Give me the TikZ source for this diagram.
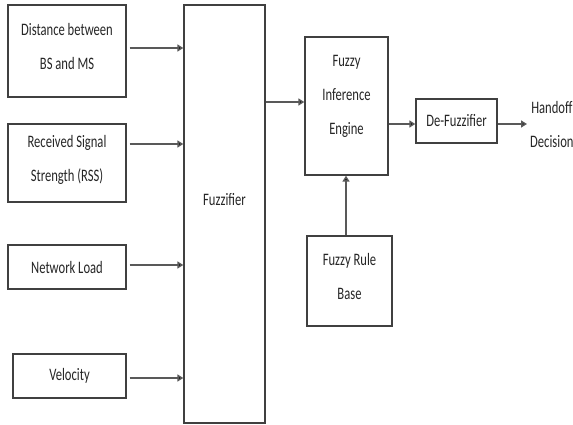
\documentclass[tikz,border=0pt]{standalone}
\usepackage{fontspec}
\setmainfont{Carlito}[FakeStretch=0.72]
\usetikzlibrary{arrows.meta}
\begin{document}
\begin{tikzpicture}[x=1pt,y=-1pt,
  blk/.style={draw=black!75,line width=1.3pt,fill=white,inner sep=0pt},
  lbl/.style={font=\fontsize{17.5}{34}\selectfont,align=center,text=black!85,inner sep=0pt},
  arr/.style={draw=black!65,line width=1.5pt,-{Triangle[length=6pt,width=7pt,fill=black]}}]
\useasboundingbox (0,0) rectangle (573,425);
% boxes
\node[blk,minimum width=118pt,minimum height=92pt] (d) at (67,51) {};
\node[lbl] at (67,46) {Distance between\\BS and MS};
\node[blk,minimum width=118pt,minimum height=78pt] (r) at (67,163) {};
\node[lbl] at (67,160) {Received Signal\\Strength (RSS)};
\node[blk,minimum width=118pt,minimum height=44pt] (n) at (67,267) {};
\node[lbl] at (67,267) {Network Load};
\node[blk,minimum width=113pt,minimum height=44pt] (v) at (69.5,376) {};
\node[lbl] at (69.5,376) {Velocity};
\node[blk,minimum width=81pt,minimum height=418pt] (f) at (224.5,214) {};
\node[lbl] at (224.5,200) {Fuzzifier};
\node[blk,minimum width=83pt,minimum height=138pt] (e) at (346.5,106) {};
\node[lbl] at (346.5,96) {Fuzzy\\Inference\\Engine};
\node[blk,minimum width=81pt,minimum height=44pt] (z) at (456.5,121) {};
\node[lbl] at (456.5,121) {De-Fuzzifier};
\node[blk,minimum width=85pt,minimum height=90pt] (b) at (349.5,281) {};
\node[lbl] at (349.5,276) {Fuzzy Rule\\Base};
\node[lbl,anchor=west] (h) at (530,124) {Handoff\\Decision};
\coordinate (hin) at (527,124);
% connectors
\draw[arr] (d.east|-0,48) ++(3,0) -- (f.west|-0,48);
\draw[arr] (r.east|-0,144) ++(3,0) -- (f.west|-0,144);
\draw[arr] (n.east|-0,265) ++(3,0) -- (f.west|-0,265);
\draw[arr] (v.east|-0,378) ++(3,0) -- (f.west|-0,378);
\draw[arr] (f.east|-0,102) -- (e.west|-0,102);
\draw[arr] (e.east|-0,124) -- (z.west|-0,124);
\draw[arr] (z.east|-0,124) -- (hin);
\draw[arr] (b.north-|346,0) -- (e.south-|346,0);
\end{tikzpicture}
\end{document}
